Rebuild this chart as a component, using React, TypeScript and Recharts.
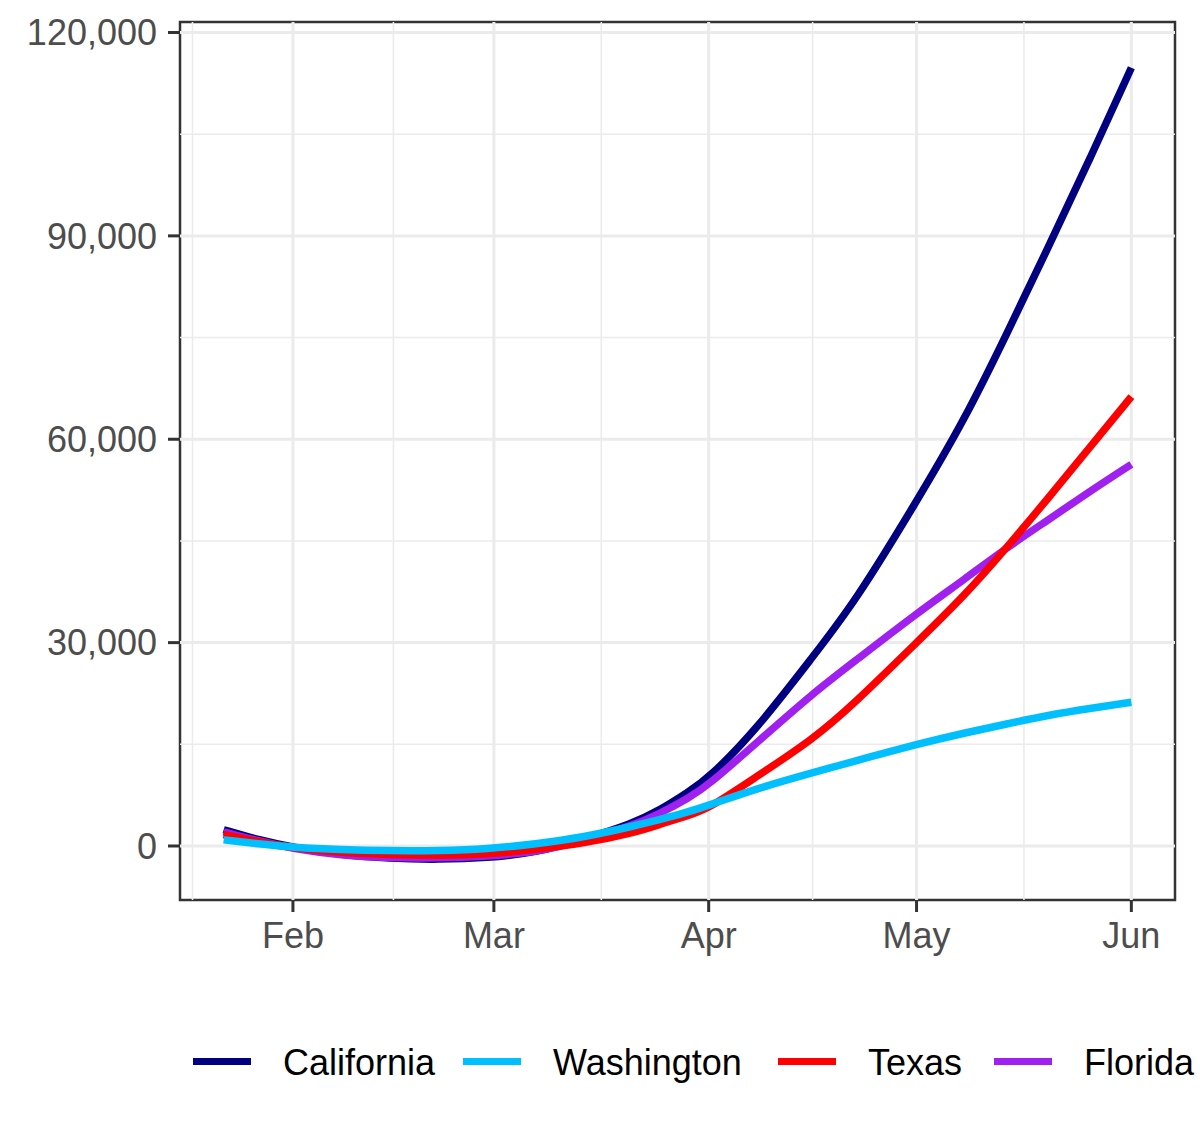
import { LineChart, Line, XAxis, YAxis, ReferenceLine, ReferenceArea } from 'recharts';

// days counted from Feb 1 (2020)
const days = [-10, -5, 0, 7, 14, 21, 28, 35, 42, 49, 53, 57, 60, 67, 75, 81, 90, 97, 103, 109, 115, 121];

const california = [2400, 900, -200, -1300, -1850, -2000, -1750, -1000, 1000, 3300, 5300, 7900, 10000, 17300, 27900, 35800, 50800, 63000, 75500, 88300, 101300, 114800];
const washington = [900, 300, -200, -550, -700, -700, -450, 300, 1300, 2900, 3900, 5000, 6000, 8500, 10800, 12500, 15000, 16700, 18000, 19300, 20300, 21200];
const texas = [1700, 600, -300, -1000, -1300, -1400, -1250, -500, 400, 1900, 3200, 4500, 5500, 10300, 15700, 21000, 30000, 37000, 44000, 51300, 58800, 66300];
const florida = [2100, 750, -400, -1400, -1750, -1800, -1500, -950, 800, 3000, 4800, 7000, 9000, 15300, 22500, 27200, 34300, 39400, 44000, 48100, 52300, 56300];

const monthTicks = [0, 29, 60, 90, 121];
const monthLabels = ['Feb', 'Mar', 'Apr', 'May', 'Jun'];
const monthMinor = [-14.5, 14.5, 44.5, 75, 105.5];

const yTicks = [0, 30000, 60000, 90000, 120000];
const yMinor = [15000, 45000, 75000, 105000];

const xDomain = [-16.3, 127.3];
const yDomain = [-7966, 121549];

// legend order differs from drawing order (ggplot draws alphabetically)
const series = [
  { key: 'California', color: '#000080', values: california },
  { key: 'Washington', color: '#00BFFF', values: washington },
  { key: 'Texas', color: '#FF0000', values: texas },
  { key: 'Florida', color: '#A020F0', values: florida },
];
const drawOrder = ['California', 'Florida', 'Texas', 'Washington'];

const data = days.map((d, i) => {
  const row: Record<string, number> = { day: d };
  series.forEach(s => { row[s.key] = s.values[i]; });
  return row;
});

const FONT = '"Liberation Sans", Arial, sans-serif';
const GRID = '#EBEBEB';

// legend slot widths, so keys land where ggplot put them
const legendSlots = [270, 315, 216, 220];

export default function App() {
  return (
    <div style={{ position: 'absolute', left: 0, top: 0, width: 1200, height: 1143, background: '#fff', fontFamily: FONT }}>
      <LineChart width={1200} height={1143} data={data} margin={{ top: 22, right: 25, bottom: 183, left: 0 }}>
        {monthMinor.map(v => (
          <ReferenceLine key={'vx' + v} x={v} stroke={GRID} strokeWidth={1.6} />
        ))}
        {yMinor.map(v => (
          <ReferenceLine key={'hy' + v} y={v} stroke={GRID} strokeWidth={1.6} />
        ))}
        {monthTicks.map(v => (
          <ReferenceLine key={'VX' + v} x={v} stroke={GRID} strokeWidth={3} />
        ))}
        {yTicks.map(v => (
          <ReferenceLine key={'HY' + v} y={v} stroke={GRID} strokeWidth={3} />
        ))}
        <XAxis
          type="number"
          dataKey="day"
          domain={xDomain}
          allowDataOverflow
          ticks={monthTicks}
          tickFormatter={(v) => monthLabels[monthTicks.indexOf(v)]}
          height={60}
          axisLine={false}
          tickSize={12}
          tickMargin={10}
          tickLine={{ stroke: '#333333', strokeWidth: 3 }}
          tick={{ fill: '#4D4D4D', fontSize: 36, fontFamily: FONT }}
          interval={0}
        />
        <YAxis
          type="number"
          domain={yDomain}
          allowDataOverflow
          ticks={yTicks}
          tickFormatter={(v) => v.toLocaleString('en-US')}
          width={180}
          axisLine={false}
          tickSize={12}
          tickMargin={11}
          tickLine={{ stroke: '#333333', strokeWidth: 3 }}
          tick={{ fill: '#4D4D4D', fontSize: 36, fontFamily: FONT }}
          interval={0}
        />
        {drawOrder.map(k => {
          const s = series.find(x => x.key === k)!;
          return (
            <Line
              key={k}
              type="basis"
              dataKey={k}
              stroke={s.color}
              strokeWidth={7.5}
              dot={false}
              isAnimationActive={false}
            />
          );
        })}
        <ReferenceArea
          x1={xDomain[0]}
          x2={xDomain[1]}
          y1={yDomain[0]}
          y2={yDomain[1]}
          fill="none"
          fillOpacity={0}
          stroke="#333333"
          strokeWidth={2.5}
        />
      </LineChart>
      <div style={{ position: 'absolute', left: 193, top: 1042, display: 'flex', alignItems: 'center', fontSize: 36, lineHeight: '42px', color: '#000' }}>
        {series.map((s, i) => (
          <div key={s.key} style={{ display: 'flex', alignItems: 'center', width: legendSlots[i], flex: 'none' }}>
            <div style={{ width: 58, height: 7, background: s.color, marginRight: 32, position: 'relative', top: -2, flex: 'none' }} />
            <span style={{ whiteSpace: 'nowrap' }}>{s.key}</span>
          </div>
        ))}
      </div>
    </div>
  );
}
